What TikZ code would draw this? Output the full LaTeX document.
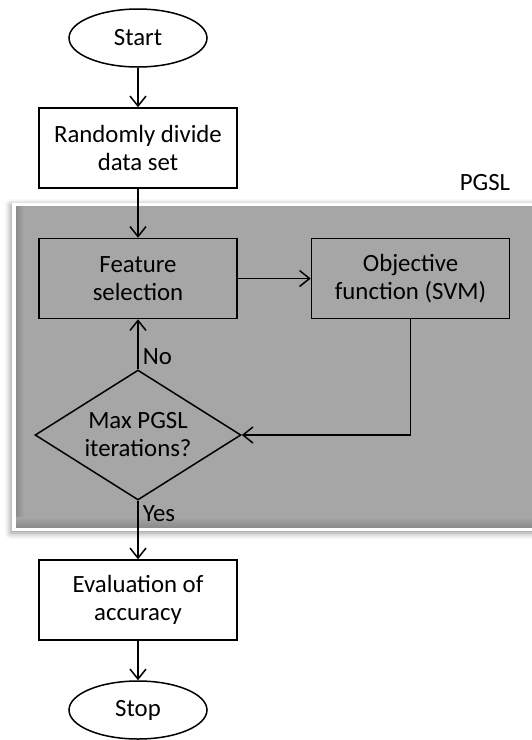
\documentclass[tikz,border=0pt]{standalone}
\usepackage{fontspec}
\setmainfont{Carlito}
\usepackage{tikz}
\usetikzlibrary{
  arrows.meta,
  positioning,
  shapes.geometric,
  shadows.blur,
  calc,
}
\definecolor{pgslGray}{HTML}{A6A6A6}
\definecolor{pgslEdge}{HTML}{8C8C8C}
\tikzset{
  termbox/.style={
    ellipse, draw=black, line width=0.75pt, fill=white,
    minimum width=69pt, minimum height=29pt, inner sep=0pt,
  },
  procbox/.style={
    rectangle, draw=black, line width=0.75pt, fill=#1,
    minimum width=99pt, minimum height=40pt, inner sep=2pt,
    align=center,
  },
  procbox/.default=white,
  decbox/.style={
    diamond, draw=black, line width=0.75pt, fill=pgslGray,
    minimum width=103pt, minimum height=65pt, inner sep=0pt,
    aspect=1.58, align=center,
  },
  flowArrow/.style={
    -{Straight Barb[length=5pt,width=8pt]}, line width=0.75pt, draw=black,
  },
  branchLabel/.style={
    font=\fontsize{12.4pt}{14pt}\selectfont, inner sep=2pt,
  },
}

\begin{document}
\begin{tikzpicture}[x=0.5pt, y=-0.5pt,
  every node/.append style={font=\fontsize{12.4pt}{14pt}\selectfont}]
\useasboundingbox (0,0) rectangle (531,740);

% PGSL region
\fill[white, blur shadow={shadow xshift=-0.6pt, shadow yshift=-1pt,
  shadow blur radius=3pt, shadow opacity=45}]
  (12,203) rectangle (560,531);
\fill[pgslGray] (16,206) rectangle (560,527);
\shade[left color=pgslEdge, right color=pgslGray] (16,206) rectangle (24,527);
\shade[bottom color=pgslEdge, top color=pgslGray] (16,517) rectangle (560,527);
\node (pgsl) at (485,183) {PGSL};

% flow
\node[termbox] (start) at (138,38) {Start};
\node[procbox] (divide) at (138,148) {Randomly divide\\data set};
\node[procbox=pgslGray] (feature) at (138,278.5) {Feature\\selection};
\node[procbox=pgslGray] (objective) at (410.5,278.5) {Objective\\function (SVM)};
\node[decbox] (maxiter) at (138,435) {Max PGSL\\iterations?};
\node[procbox] (evaluate) at (138,600) {Evaluation of\\accuracy};
\node[termbox] (stop) at (138,710) {Stop};

\draw[flowArrow] (start) -- (divide);
\draw[flowArrow] (divide) -- (feature);
\draw[flowArrow] (feature) -- (objective);
\draw[flowArrow] (objective.south) |- (maxiter.east);
\draw[flowArrow] (maxiter.north) -- (feature.south)
  node[branchLabel, anchor=south west, pos=0] {No};
\draw[flowArrow] (maxiter.south) -- (evaluate.north)
  node[branchLabel, anchor=north west, pos=0] {Yes};
\draw[flowArrow] (evaluate) -- (stop);

\end{tikzpicture}
\end{document}
